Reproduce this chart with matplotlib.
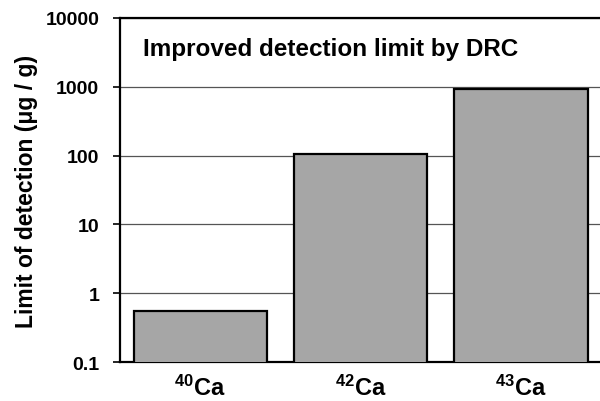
import matplotlib
matplotlib.use("Agg")
import matplotlib.pyplot as plt
import numpy as np

isotopes = ["40", "42", "43"]
detection_limits = [0.56, 105, 930]
y_ticks = [0.1, 1, 10, 100, 1000, 10000]
y_tick_labels = ["0.1", "1", "10", "100", "1000", "10000"]
title_text = "Improved detection limit by DRC"
y_label = "Limit of detection (\u03bcg / g)"

plt.rcParams["font.family"] = ["Liberation Sans", "DejaVu Sans"]
plt.rcParams["mathtext.fontset"] = "custom"
plt.rcParams["mathtext.rm"] = "Liberation Sans:bold"
plt.rcParams["mathtext.default"] = "rm"

fig = plt.figure(figsize=(6.0, 4.02), dpi=100)
ax = fig.add_axes([0.2, 0.097, 0.802, 0.856])

x = np.arange(len(isotopes))
ax.bar(x, detection_limits, width=0.83, color="#a6a6a6",
       edgecolor="black", linewidth=1.6, zorder=3)

ax.set_yscale("log")
ax.set_ylim(0.1, 10000)
ax.set_xlim(-0.5, 2.5)
ax.set_yticks(y_ticks)
ax.set_yticklabels(y_tick_labels, fontsize=14, fontweight="bold")
ax.yaxis.set_minor_locator(matplotlib.ticker.NullLocator())
ax.tick_params(axis="y", length=5, width=1.2, direction="out", pad=10)
ax.set_xticks(x)
ax.set_xticklabels([r"$^{%s}$Ca" % s for s in isotopes], fontsize=17,
                   fontweight="bold")
ax.tick_params(axis="x", length=0, pad=9)

ax.grid(axis="y", which="major", color="#555555", linewidth=0.9, zorder=0)

ax.spines["right"].set_visible(False)
for side in ("left", "bottom", "top"):
    ax.spines[side].set_linewidth(1.6)

ax.set_ylabel(y_label, fontsize=16.5, fontweight="bold", labelpad=5)
ax.text(0.048, 0.91, title_text, transform=ax.transAxes, fontsize=17.5,
        fontweight="bold", va="center", ha="left", zorder=5)

fig.savefig("out.png", dpi=100)
